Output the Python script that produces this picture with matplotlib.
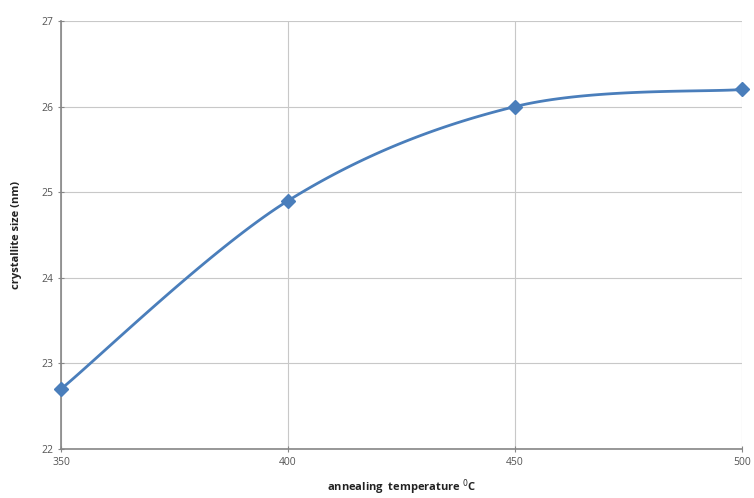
import numpy as np
import matplotlib
matplotlib.use("Agg")
import matplotlib.pyplot as plt

temps = [350, 400, 450, 500]
sizes = [22.7, 24.9, 26.0, 26.2]
xticks = [350, 400, 450, 500]
yticks = [22, 23, 24, 25, 26, 27]

def smooth(xs, ys, n=40):
    P = np.column_stack([xs, ys]).astype(float)
    out = []
    for i in range(len(P) - 1):
        p0 = P[i - 1] if i > 0 else P[i]
        p1 = P[i]
        p2 = P[i + 1]
        p3 = P[i + 2] if i + 2 < len(P) else P[i + 1]
        c1 = p1 + (p2 - p0) / 6.0
        c2 = p2 - (p3 - p1) / 6.0
        t = np.linspace(0, 1, n)[:, None]
        seg = ((1 - t) ** 3) * p1 + 3 * ((1 - t) ** 2) * t * c1 + 3 * (1 - t) * t ** 2 * c2 + t ** 3 * p2
        out.append(seg if i == 0 else seg[1:])
    s = np.vstack(out)
    return s[:, 0], s[:, 1]

plt.rcParams['font.family'] = ['Open Sans', 'DejaVu Sans']
fig = plt.figure(figsize=(7.54, 4.98), dpi=100)
ax = fig.add_axes([61 / 754, 1 - 449 / 498, (742 - 61) / 754, (449 - 21) / 498])

color = '#4a7ebb'
sx, sy = smooth(temps, sizes)
ax.plot(sx, sy, color=color, lw=2.0, zorder=3, clip_on=False)
ax.plot(temps, sizes, linestyle='none', marker='D', ms=7, color=color, zorder=4, clip_on=False)

ax.set_xlim(350, 500)
ax.set_ylim(22, 27)
ax.set_xticks(xticks)
ax.set_yticks(yticks)
ax.grid(True, color='#c8c8c8', lw=0.8)
ax.set_axisbelow(True)
for side in ['top', 'right']:
    ax.spines[side].set_visible(False)
for side in ['left', 'bottom']:
    ax.spines[side].set_color('#868686')
    ax.spines[side].set_linewidth(1.2)
ax.tick_params(axis='both', direction='inout', length=5, width=0.8, color='#868686',
               labelsize=7.5, labelcolor='#555555')
ax.tick_params(axis='x', pad=3)
ax.tick_params(axis='y', pad=3)

ax.set_xlabel('annealing  temperature $^{0}$C', fontsize=8, fontweight='bold', color='#222222', labelpad=7)
ax.set_ylabel('crystallite size (nm)', fontsize=8, fontweight='bold', color='#222222', labelpad=14)

fig.savefig('out.png', dpi=100)
